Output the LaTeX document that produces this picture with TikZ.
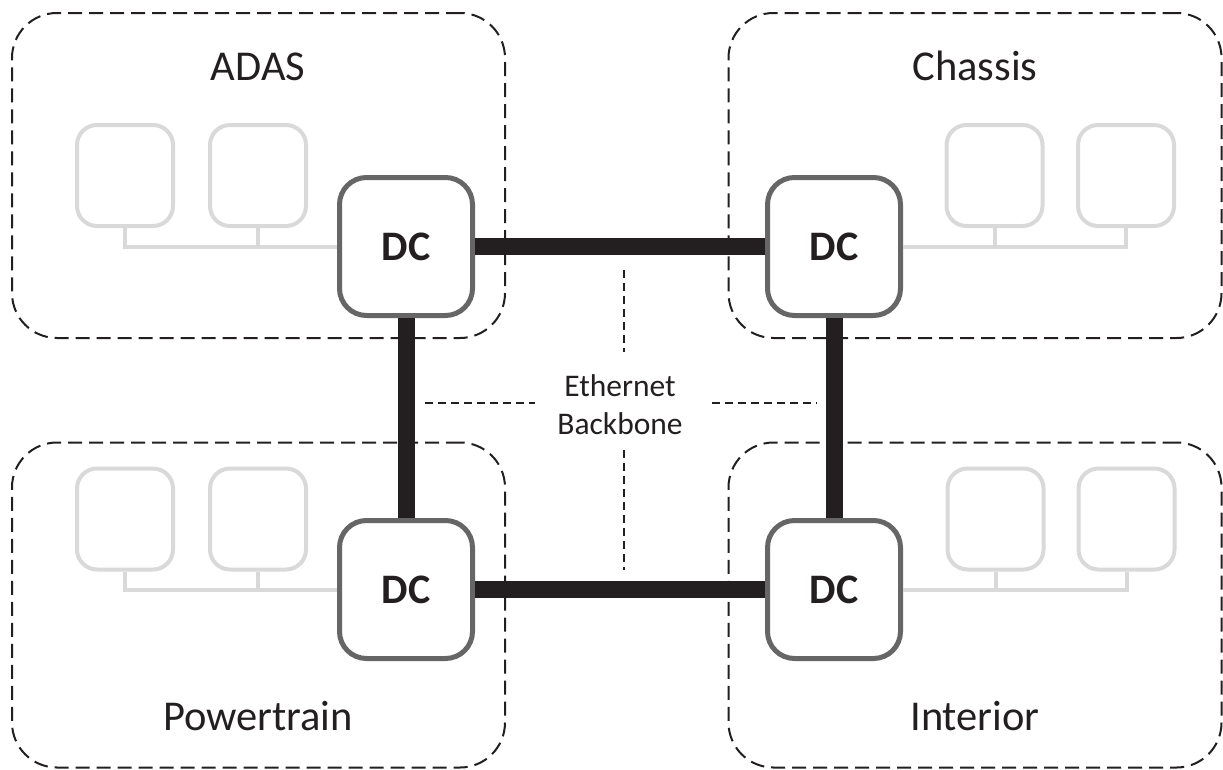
\documentclass[tikz,border=0pt]{standalone}
\usepackage{fontspec}
\setmainfont{Carlito}
\definecolor{ink}{HTML}{231F20}
\definecolor{dcgray}{HTML}{666666}
\definecolor{ecugray}{HTML}{D9D9DA}
\begin{document}
\begin{tikzpicture}[x=1pt,y=-1pt,
  zonebox/.style={draw=ink, dash pattern=on 14pt off 7pt, line width=2pt,
    rounded corners=45pt, minimum width=493pt, minimum height=325pt, inner sep=0pt},
  zonelabel/.style={text=ink, font=\fontsize{42.5}{50}\selectfont, anchor=base, inner sep=0pt},
  dcbox/.style={draw=dcgray, fill=white, line width=5pt, rounded corners=27pt,
    minimum width=133pt, minimum height=138pt, inner sep=0pt,
    text=ink, font=\bfseries\fontsize{42}{50}\selectfont},
  ecubox/.style={draw=ecugray, fill=white, line width=4pt, rounded corners=20pt,
    minimum width=96pt, minimum height=101pt, inner sep=0pt},
  localbus/.style={draw=ecugray, line width=4pt},
  backbone/.style={draw=ink, line width=17pt},
  divider/.style={draw=ink, line width=1.3pt, dash pattern=on 8pt off 5pt},
]
\useasboundingbox (0,0) rectangle (1223,769);

% zones
\node[zonebox] (adaszone)  at (258.5,175.5) {};
\node[zonebox] (chaszone)  at (975,175.5) {};
\node[zonebox] (powerzone) at (258.5,605) {};
\node[zonebox] (intzone)   at (975,605) {};

\node[zonelabel] (adaslbl)  at (258,80)  {ADAS};
\node[zonelabel] (chaslbl)  at (975,80)  {Chassis};
\node[zonelabel] (powerlbl) at (258,730) {Powertrain};
\node[zonelabel] (intlbl)   at (975,730) {Interior};

% dividers round the backbone label
\coordinate (vt1) at (624,270); \coordinate (vt2) at (624,352);
\coordinate (vb1) at (624,450); \coordinate (vb2) at (624,570);
\coordinate (hl1) at (425,403); \coordinate (hl2) at (535,403);
\coordinate (hr1) at (712,403); \coordinate (hr2) at (817,403);
\draw[divider] (vt1) -- (vt2);
\draw[divider] (vb1) -- (vb2);
\draw[divider] (hl1) -- (hl2);
\draw[divider] (hr1) -- (hr2);

\node[text=ink, align=center, inner sep=0pt,
  font=\fontsize{31.5}{38}\selectfont] (eth) at (620,405) {Ethernet\\Backbone};

% domain controllers
\node[dcbox] (dcA) at (406,246.5) {DC};
\node[dcbox] (dcC) at (834,246.5) {DC};
\node[dcbox] (dcP) at (406,589.5) {DC};
\node[dcbox] (dcI) at (834,589.5) {DC};

% ECUs
\node[ecubox] (a1) at (125,175.5) {};
\node[ecubox] (a2) at (258,175.5) {};
\node[ecubox] (c1) at (994.5,175.5) {};
\node[ecubox] (c2) at (1126,175.5) {};
\node[ecubox] (p1) at (125,519) {};
\node[ecubox] (p2) at (258,519) {};
\node[ecubox] (i1) at (995.5,519) {};
\node[ecubox] (i2) at (1126.5,519) {};

% local buses
\draw[localbus] (a1.south) |- (dcA.west);
\draw[localbus] (a2.south) -- (a2.south |- dcA.west);
\draw[localbus] (c2.south) |- (dcC.east);
\draw[localbus] (c1.south) -- (c1.south |- dcC.east);
\draw[localbus] (p1.south) |- (dcP.west);
\draw[localbus] (p2.south) -- (p2.south |- dcP.west);
\draw[localbus] (i2.south) |- (dcI.east);
\draw[localbus] (i1.south) -- (i1.south |- dcI.east);

% ethernet backbone ring
\draw[backbone] (dcA.east) -- (dcC.west);
\draw[backbone] (dcP.east) -- (dcI.west);
\draw[backbone] (dcA.south) -- (dcP.north);
\draw[backbone] (dcC.south) -- (dcI.north);
\end{tikzpicture}
\end{document}
